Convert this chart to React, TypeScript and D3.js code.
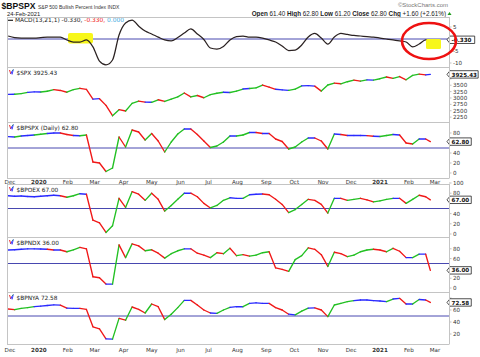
import React from "react";
import * as d3 from "d3";

// ---------- DATA (weekly closes) ----------
const dateStrings = [
  "2019-11-29","2019-12-06","2019-12-13","2019-12-20","2019-12-27",
  "2020-01-03","2020-01-10","2020-01-17","2020-01-24","2020-01-31",
  "2020-02-07","2020-02-14","2020-02-21","2020-02-28","2020-03-06",
  "2020-03-13","2020-03-20","2020-03-27","2020-04-03","2020-04-10",
  "2020-04-17","2020-04-24","2020-05-01","2020-05-08","2020-05-15",
  "2020-05-22","2020-05-29","2020-06-05","2020-06-12","2020-06-19",
  "2020-06-26","2020-07-03","2020-07-10","2020-07-17","2020-07-24",
  "2020-07-31","2020-08-07","2020-08-14","2020-08-21","2020-08-28",
  "2020-09-04","2020-09-11","2020-09-18","2020-09-25","2020-10-02",
  "2020-10-09","2020-10-16","2020-10-23","2020-10-30","2020-11-06",
  "2020-11-13","2020-11-20","2020-11-27","2020-12-04","2020-12-11",
  "2020-12-18","2020-12-25","2021-01-01","2021-01-08","2021-01-15",
  "2021-01-22","2021-01-29","2021-02-05","2021-02-12","2021-02-19",
  "2021-02-24",
];

const macdValues = [
  1.25, 0.6, 0.4, 0.4, 0.4, 0.6, 0.8, 0.8, 0.8, -0.4,
  -1.25, -1.25, -0.4, -3.3, -9.2, -10.8, -8.75, 1.7, 6.7, 7.9,
  5.4, 3.3, 2.1, 0.8, -0.4, -0.8, 0.6, 2.5, 4.2, 2.1,
  -0.2, -3.75, -4.2, -3.1, -0.4, 1.0, 1.25, 0.8, 0.8, 0.4,
  -0.4, -1.25, -2.9, -4.8, -4.6, -2.5, 0.8, 2.3, 0.4, -2.1,
  0.8, 2.3, 1.9, 1.5, 1.25, 1.0, 0.8, 0.4, 0, -0.4,
  -0.8, -1.25, -3.3, -2.1, -0.4, -0.33,
];

const spxValues = [
  3141, 3146, 3169, 3221, 3240, 3235, 3265, 3330, 3295, 3226,
  3328, 3380, 3338, 2954, 2972, 2711, 2305, 2541, 2489, 2790,
  2875, 2837, 2831, 2930, 2864, 2955, 3044, 3194, 3041, 3098,
  3009, 3130, 3185, 3225, 3216, 3271, 3351, 3373, 3397, 3508,
  3427, 3341, 3319, 3298, 3348, 3477, 3483, 3465, 3270, 3509,
  3585, 3557, 3638, 3699, 3663, 3709, 3703, 3756, 3824, 3768,
  3841, 3714, 3887, 3934, 3906, 3925.43,
];

const bpspxValues = [
  72.6, 72, 74, 75, 76, 77.5, 79, 80, 80, 77,
  75, 74.5, 76, 22, 20, 3, 10, 72, 52, 86,
  82, 66, 79, 64, 42, 62, 78, 88, 88, 77,
  64, 51, 54, 62, 74, 74, 76, 81, 81, 79,
  79, 68, 63, 48, 52, 62, 70, 70, 64, 48,
  78, 77, 75, 75, 75, 74.7, 73.5, 73, 75, 77,
  76, 60, 58, 68, 68, 62.8,
];

const bpoexValues = [
  75, 74, 74.5, 73.5, 73, 74, 75, 76, 75, 72,
  75, 79, 78, 27, 22, 3, 16, 70, 52, 83,
  78, 66, 80, 68, 45, 56, 68, 80, 80, 73,
  60, 51, 56, 66, 71, 70, 70, 77, 78, 78.4,
  77, 68, 58, 42, 48, 58, 68, 66, 58, 41,
  70, 70, 66, 68, 70, 67, 63, 65, 68, 70,
  70, 60, 68, 76, 73, 67,
];

const bpndxValues = [
  77.5, 78, 79, 80, 80, 79.6, 79, 77.5, 77.5, 74,
  78, 83, 80, 23, 21, 8, 8, 88, 62, 90,
  86, 76, 78, 71, 61, 70, 76, 80, 80, 71,
  67, 62, 72, 70, 81, 66, 68, 65, 67, 72,
  74, 41, 38, 34, 58, 66, 82, 79, 68, 44,
  73, 70, 64, 67, 74, 77.5, 79, 77.5, 74, 81,
  75, 62, 62, 69, 69, 36,
];

const bpnyaValues = [
  61.7, 60.5, 62.8, 64, 65.5, 66.5, 67.5, 68.5, 68, 63,
  62.8, 62.8, 61, 32, 28.5, 12, 11.5, 46, 43, 65,
  61, 55, 70, 65.5, 44, 53, 64, 76, 76, 68.3,
  60, 55, 54.4, 60, 64.5, 65.5, 65.5, 71, 72, 71,
  71, 64, 60, 53, 52, 58, 63, 63.5, 60, 49,
  68.3, 71, 74, 75.6, 76.7, 76.7, 75.6, 75, 74, 78.3,
  79.4, 70, 70, 77.5, 76.7, 72.58,
];

const macdTicks = [5, 0, -5, -10];
const spxTicks = [2250, 2500, 2750, 3000, 3250, 3500, 3750, 4000];
const bpspxTicks = [0, 20, 40, 60, 80];
const bpoexTicks = [0, 20, 40, 60, 80, 100];
const bpndxTicks = [0, 20, 40, 60, 80];
const bpnyaTicks = [20, 40, 60, 80];

// ---------- LAYOUT ----------
const W = 480;
const H = 357;
const PL = 7;
const PR = 449;
const SANS = "'DejaVu Sans', Verdana, sans-serif";
const ARIAL = "'Liberation Sans', Arial, sans-serif";
const GREEN = "#22c022";
const RED = "#f01818";
const BLUE = "#2a2aff";
const REF = "#4848b0";
const BORDER = "#c4c4c4";

const parse = d3.timeParse("%Y-%m-%d");
const dates = dateStrings.map((s) => parse(s) as Date);

const x = d3
  .scaleTime()
  .domain([new Date(2019, 11, 1), new Date(2021, 2, 1)])
  .range([10, 435]);

type PanelDef = {
  key: string;
  label: string;
  values: number[];
  top: number;
  bottom: number;
  y: d3.ScaleLinear<number, number>;
  ticks: number[];
  thr: number;
  ref: number;
  box: string;
};

const panels: PanelDef[] = [
  {
    key: "spx",
    label: "$SPX 3925.43",
    values: spxValues,
    top: 67,
    bottom: 122,
    y: d3.scaleLinear().domain([2250, 4000]).range([117.1, 72.5]),
    ticks: spxTicks,
    thr: 22,
    ref: NaN,
    box: "3925.43",
  },
  {
    key: "bpspx",
    label: "$BPSPX (Daily) 62.80",
    values: bpspxValues,
    top: 122,
    bottom: 178,
    y: d3.scaleLinear().domain([0, 100]).range([173, 123]),
    ticks: bpspxTicks,
    thr: 1.2,
    ref: 50,
    box: "62.80",
  },
  {
    key: "bpoex",
    label: "$BPOEX 67.00",
    values: bpoexValues,
    top: 184,
    bottom: 237,
    y: d3.scaleLinear().domain([0, 100]).range([234, 183]),
    ticks: bpoexTicks,
    thr: 1.2,
    ref: 50,
    box: "67.00",
  },
  {
    key: "bpndx",
    label: "$BPNDX 36.00",
    values: bpndxValues,
    top: 237,
    bottom: 292,
    y: d3.scaleLinear().domain([0, 100]).range([288, 239]),
    ticks: bpndxTicks,
    thr: 1.2,
    ref: 50,
    box: "36.00",
  },
  {
    key: "bpnya",
    label: "$BPNYA 72.58",
    values: bpnyaValues,
    top: 292,
    bottom: 344,
    y: d3.scaleLinear().domain([0, 100]).range([346, 286]),
    ticks: bpnyaTicks,
    thr: 1.2,
    ref: 50,
    box: "72.58",
  },
];

const macdTop = 17;
const macdBottom = 67;
const yMacd = d3.scaleLinear().domain([-10, 5]).range([63, 27]);

const segColor = (d: number, thr: number) =>
  d > thr ? GREEN : d < -thr ? RED : BLUE;

const BOX_H = 7.4;

function ValueBox({ y, text }: { y: number; text: string }) {
  const w = 4 + text.length * 3.45;
  const h = BOX_H;
  const x0 = 450;
  const pts = [
    [x0 - 3, y],
    [x0, y - h / 2],
    [x0 + w, y - h / 2],
    [x0 + w, y + h / 2],
    [x0, y + h / 2],
  ]
    .map((p) => p.join(","))
    .join(" ");
  return (
    <g>
      <polygon points={pts} fill="#fff" stroke="#222" strokeWidth={0.8} strokeLinejoin="round" />
      <text x={x0 + 1.5} y={y + 2.1} fontFamily={SANS} fontSize={5.6} fontWeight="bold" fill="#111">
        {text}
      </text>
    </g>
  );
}

function Icon({ x0, y0 }: { x0: number; y0: number }) {
  return (
    <g strokeWidth={0.9} fill="none">
      <line x1={x0} y1={y0 - 5} x2={x0 + 1.3} y2={y0 - 1} stroke={RED} />
      <line x1={x0 + 1.3} y1={y0 - 1} x2={x0 + 2.6} y2={y0 - 4} stroke={BLUE} />
      <line x1={x0 + 2.6} y1={y0 - 4} x2={x0 + 3.8} y2={y0 - 5.5} stroke={GREEN} />
      <line x1={x0 + 3.8} y1={y0 - 5.5} x2={x0 + 2.6} y2={y0 - 0.5} stroke={BLUE} />
    </g>
  );
}

function ColoredLine({ values, y, thr }: { values: number[]; y: d3.ScaleLinear<number, number>; thr: number }) {
  const segs = [];
  for (let i = 0; i < values.length - 1; i++) {
    segs.push(
      <line
        key={i}
        x1={x(dates[i])}
        y1={y(values[i])}
        x2={x(dates[i + 1])}
        y2={y(values[i + 1])}
        stroke={segColor(values[i + 1] - values[i], thr)}
        strokeWidth={1.35}
        strokeLinecap="round"
      />
    );
  }
  return <g>{segs}</g>;
}

function MonthAxis({ yBase }: { yBase: number }) {
  const months = d3.timeMonth.range(new Date(2019, 11, 1), new Date(2021, 2, 2));
  return (
    <g>
      {months.map((m, i) => {
        const isYear = m.getMonth() === 0;
        return (
          <text
            key={i}
            x={x(m)}
            y={yBase}
            textAnchor="middle"
            fontFamily={SANS}
            fontSize={5.6}
            fontWeight={isYear ? "bold" : "normal"}
            fill="#333"
          >
            {isYear ? d3.timeFormat("%Y")(m) : d3.timeFormat("%b")(m)}
          </text>
        );
      })}
    </g>
  );
}

function AxisTicks({
  ticks,
  y,
  boxY,
}: {
  ticks: number[];
  y: (v: number) => number;
  boxY: number;
}) {
  return (
    <g>
      {ticks.map((t) => {
        const ty = y(t);
        const hidden = Math.abs(ty - boxY) < 5.5;
        return (
          <g key={t}>
            <line x1={PR} x2={PR + 2.5} y1={ty} y2={ty} stroke="#999" strokeWidth={0.6} />
            {!hidden && (
              <text x={453} y={ty + 2} fontFamily={SANS} fontSize={5.6} fill="#333">
                {t}
              </text>
            )}
          </g>
        );
      })}
    </g>
  );
}

export default function App() {
  const macdLine = d3
    .line<number>()
    .x((_, i) => x(dates[i]))
    .y((d) => yMacd(d))
    .curve(d3.curveMonotoneX)(macdValues) as string;
  const macdLast = macdValues[macdValues.length - 1];

  return (
    <svg width={W} height={H} style={{ display: "block", position: "absolute", left: 0, top: 0, background: "#fff" }}>
      <rect x={0} y={0} width={W} height={H} fill="#fff" />

      {/* header */}
      <text x={1.5} y={9} fontFamily={ARIAL} fontWeight="bold" fontSize={8.6} fill="#111">
        $BPSPX
      </text>
      <text x={38} y={9} fontFamily={ARIAL} fontSize={5} fill="#333">
        S&amp;P 500 Bullish Percent Index INDX
      </text>
      <text x={7} y={15.6} fontFamily={ARIAL} fontSize={5.8} fill="#222">
        24-Feb-2021
      </text>
      <text x={448} y={7} textAnchor="end" fontFamily={ARIAL} fontSize={6} fill="#777">
        ©StockCharts.com
      </text>
      <text x={446} y={15.6} textAnchor="end" fontFamily={ARIAL} fontSize={6.3} fill="#222">
        <tspan fontWeight="bold">Open</tspan> 61.40 <tspan fontWeight="bold">High</tspan> 62.80{" "}
        <tspan fontWeight="bold">Low</tspan> 61.20 <tspan fontWeight="bold">Close</tspan> 62.80{" "}
        <tspan fontWeight="bold">Chg</tspan> +1.60 (+2.61%)
      </text>
      <path d="M447.5,15 L449.5,12 L451.5,15 Z" fill="#1a9a1a" />

      {/* MACD panel */}
      <line x1={PL} x2={PR} y1={yMacd(0)} y2={yMacd(0)} stroke={REF} strokeWidth={1} />
      <rect x={68} y={33} width={25} height={10.5} rx={2} fill="#f7f71a" />
      <path d={macdLine} fill="none" stroke="#2b2222" strokeWidth={1.25} />
      <rect x={426} y={39} width={15} height={10} rx={1.5} fill="#f7f71a" />
      <line x1={8} x2={13} y1={20.3} y2={20.3} stroke="#222" strokeWidth={1.2} />
      <text x={15} y={22.3} fontFamily={SANS} fontSize={5.9} fill="#222">
        MACD(13,21,1) -0.330, <tspan fill={RED}>-0.330,</tspan> <tspan fill="#3aa8e0">0.000</tspan>
      </text>
      <AxisTicks ticks={macdTicks} y={yMacd} boxY={yMacd(macdLast)} />
      <ValueBox y={yMacd(macdLast)} text="-0.330" />

      {/* price panels */}
      {panels.map((p) => {
        const last = p.values[p.values.length - 1];
        return (
          <g key={p.key}>
            {!isNaN(p.ref) && (
              <line x1={PL} x2={PR} y1={p.y(p.ref)} y2={p.y(p.ref)} stroke={REF} strokeWidth={1} />
            )}
            <ColoredLine values={p.values} y={p.y} thr={p.thr} />
            <Icon x0={9.5} y0={p.top + 8} />
            <text x={16.5} y={p.top + 8.3} fontFamily={SANS} fontSize={5.8} fill="#222">
              {p.label}
            </text>
            <AxisTicks ticks={p.ticks} y={p.y} boxY={p.y(last)} />
            <ValueBox y={p.y(last)} text={p.box} />
          </g>
        );
      })}

      {/* borders */}
      <g stroke={BORDER} strokeWidth={1} fill="none">
        <line x1={PL} x2={PR} y1={macdTop + 0.5} y2={macdTop + 0.5} />
        <line x1={PL} x2={PR} y1={macdBottom + 0.5} y2={macdBottom + 0.5} />
        {panels.map((p) => (
          <g key={p.key}>
            <line x1={PL} x2={PR} y1={p.top + 0.5} y2={p.top + 0.5} />
            <line x1={PL} x2={PR} y1={p.bottom + 0.5} y2={p.bottom + 0.5} />
          </g>
        ))}
        <line x1={PL + 0.5} x2={PL + 0.5} y1={macdTop} y2={178.5} />
        <line x1={PR + 0.5} x2={PR + 0.5} y1={macdTop} y2={178.5} />
        <line x1={PL + 0.5} x2={PL + 0.5} y1={184} y2={344.5} />
        <line x1={PR + 0.5} x2={PR + 0.5} y1={184} y2={344.5} />
      </g>

      <MonthAxis yBase={183.6} />
      <MonthAxis yBase={351.5} />

      {/* annotation */}
      <ellipse cx={429} cy={41} rx={27} ry={18} fill="none" stroke="#ee1111" strokeWidth={2.6} />
    </svg>
  );
}
